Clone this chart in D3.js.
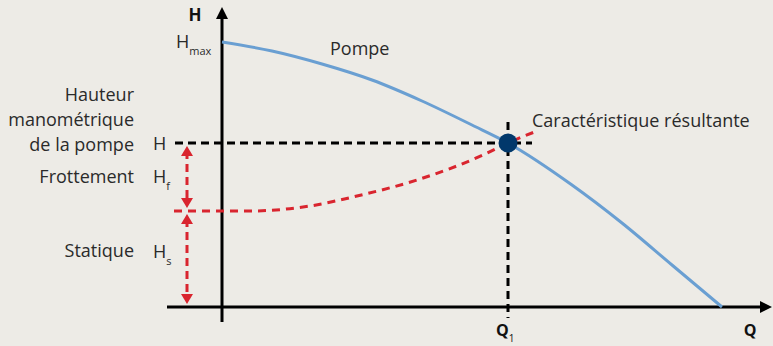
<!DOCTYPE html>
<html>
<head>
<meta charset="UTF-8">
<title></title>
<style>
  body { margin: 0; background: #edebe6; }
  svg { display: block; font-family: "Open Sans", sans-serif; }
  .lbl { fill: #2a2a2a; font-size: 18px; }
  .bold { fill: #111; font-weight: bold; }
</style>
</head>
<body>
<script src="https://cdn.jsdelivr.net/npm/d3@7"></script>
<script>
// courbe de la pompe (Q, H)
var qPump = [0, 1, 2, 3, 4, 5, 5.72, 7, 8, 9, 10];
var hPump = [5.30, 5.12, 4.86, 4.54, 4.12, 3.64, 3.28, 2.44, 1.68, 0.84, 0];
// caractéristique résultante du réseau
var qSys = [-0.96, 0, 0.56, 1.76, 2.7, 3.9, 5.22, 5.72, 6.3];
var hSys = [1.92, 1.92, 1.92, 2.02, 2.22, 2.54, 3.04, 3.28, 3.52];
// point de fonctionnement
var Q1 = 5.72, H1 = 3.28, Hs = 1.92, Hmax = 5.3;
var leftLabels = ["Hauteur", "manométrique", "de la pompe"];

var width = 773, height = 346;
var svg = d3.select("body").append("svg")
  .attr("width", width).attr("height", height);

var x = d3.scaleLinear().domain([-1.1, 11]).range([167, 772]);
var y = d3.scaleLinear().domain([-0.3, 6]).range([322, 7]);

var red = "#d9252f", blue = "#6a9fd2";

// axes
svg.append("line").attr("x1", x(-1.1)).attr("x2", x(11) - 8)
  .attr("y1", y(0)).attr("y2", y(0)).attr("stroke", "#000").attr("stroke-width", 3);
svg.append("path")
  .attr("d", "M" + x(11) + "," + y(0) + "l-12,-6v12z").attr("fill", "#000");
svg.append("line").attr("x1", x(0)).attr("x2", x(0))
  .attr("y1", y(-0.3)).attr("y2", y(6) + 8).attr("stroke", "#000").attr("stroke-width", 3);
svg.append("path")
  .attr("d", "M" + x(0) + "," + y(6) + "l-6,12h12z").attr("fill", "#000");

// lignes pointillées du point de fonctionnement
svg.append("line").attr("x1", x(-0.94)).attr("x2", x(6.2))
  .attr("y1", y(H1)).attr("y2", y(H1))
  .attr("stroke", "#000").attr("stroke-width", 3).attr("stroke-dasharray", "8,5");
svg.append("line").attr("x1", x(Q1)).attr("x2", x(Q1))
  .attr("y1", y(3.7)).attr("y2", y(-0.22))
  .attr("stroke", "#000").attr("stroke-width", 3).attr("stroke-dasharray", "8,5");

var line = d3.line().curve(d3.curveMonotoneX)
  .x(function(d) { return x(d[0]); })
  .y(function(d) { return y(d[1]); });

// courbe pompe
svg.append("path").datum(d3.zip(qPump, hPump))
  .attr("d", line).attr("fill", "none")
  .attr("stroke", blue).attr("stroke-width", 3);

// caractéristique résultante
svg.append("path").datum(d3.zip(qSys, hSys))
  .attr("d", line).attr("fill", "none")
  .attr("stroke", red).attr("stroke-width", 3).attr("stroke-dasharray", "8,6");

// point
svg.append("circle").attr("cx", x(Q1)).attr("cy", y(H1)).attr("r", 9.5)
  .attr("fill", "#01386b");

// flèches rouges
var ax = x(-0.7);
function arrow(h0, h1) {
  var ya = y(h0), yb = y(h1);
  svg.append("line").attr("x1", ax).attr("x2", ax)
    .attr("y1", ya + 8).attr("y2", yb - 8)
    .attr("stroke", red).attr("stroke-width", 3).attr("stroke-dasharray", "8,5");
  svg.append("path").attr("d", "M" + ax + "," + (ya + 3) + "l-6,10h12z").attr("fill", red);
  svg.append("path").attr("d", "M" + ax + "," + (yb - 3) + "l-6,-10h12z").attr("fill", red);
}
arrow(H1, Hs);
arrow(Hs, 0);

// textes
svg.append("text").attr("class", "bold").attr("x", 195).attr("y", 21)
  .attr("text-anchor", "middle").style("font-size", "17px").text("H");
svg.append("text").attr("class", "bold").attr("x", 750).attr("y", 336)
  .attr("text-anchor", "middle").style("font-size", "16px").text("Q");
var q1 = svg.append("text").attr("class", "bold").attr("x", x(Q1) - 12).attr("y", 336)
  .style("font-size", "16px");
q1.append("tspan").text("Q");
q1.append("tspan").attr("dy", 6).style("font-size", "10px").style("font-weight", "normal").text("1");

function sub(xp, yp, main, s) {
  var t = svg.append("text").attr("class", "lbl").attr("x", xp).attr("y", yp);
  t.append("tspan").text(main);
  if (s) t.append("tspan").attr("dy", 7).style("font-size", "11px").text(s);
}
sub(176, y(Hmax) + 6, "H", "max");
sub(153, y(H1) + 7, "H");
sub(153, 183, "H", "f");
sub(153, 258, "H", "s");

svg.selectAll(".left").data(leftLabels).enter().append("text")
  .attr("class", "lbl left").attr("x", 134).attr("text-anchor", "end")
  .attr("y", function(d, i) { return 101 + i * 25; })
  .text(function(d) { return d; });
svg.append("text").attr("class", "lbl").attr("x", 134).attr("y", 183)
  .attr("text-anchor", "end").text("Frottement");
svg.append("text").attr("class", "lbl").attr("x", 134).attr("y", 257)
  .attr("text-anchor", "end").text("Statique");

svg.append("text").attr("class", "lbl").attr("x", 330).attr("y", 55).text("Pompe");
svg.append("text").attr("class", "lbl").attr("x", 532).attr("y", 127)
  .text("Caractéristique résultante");
</script>
</body>
</html>
